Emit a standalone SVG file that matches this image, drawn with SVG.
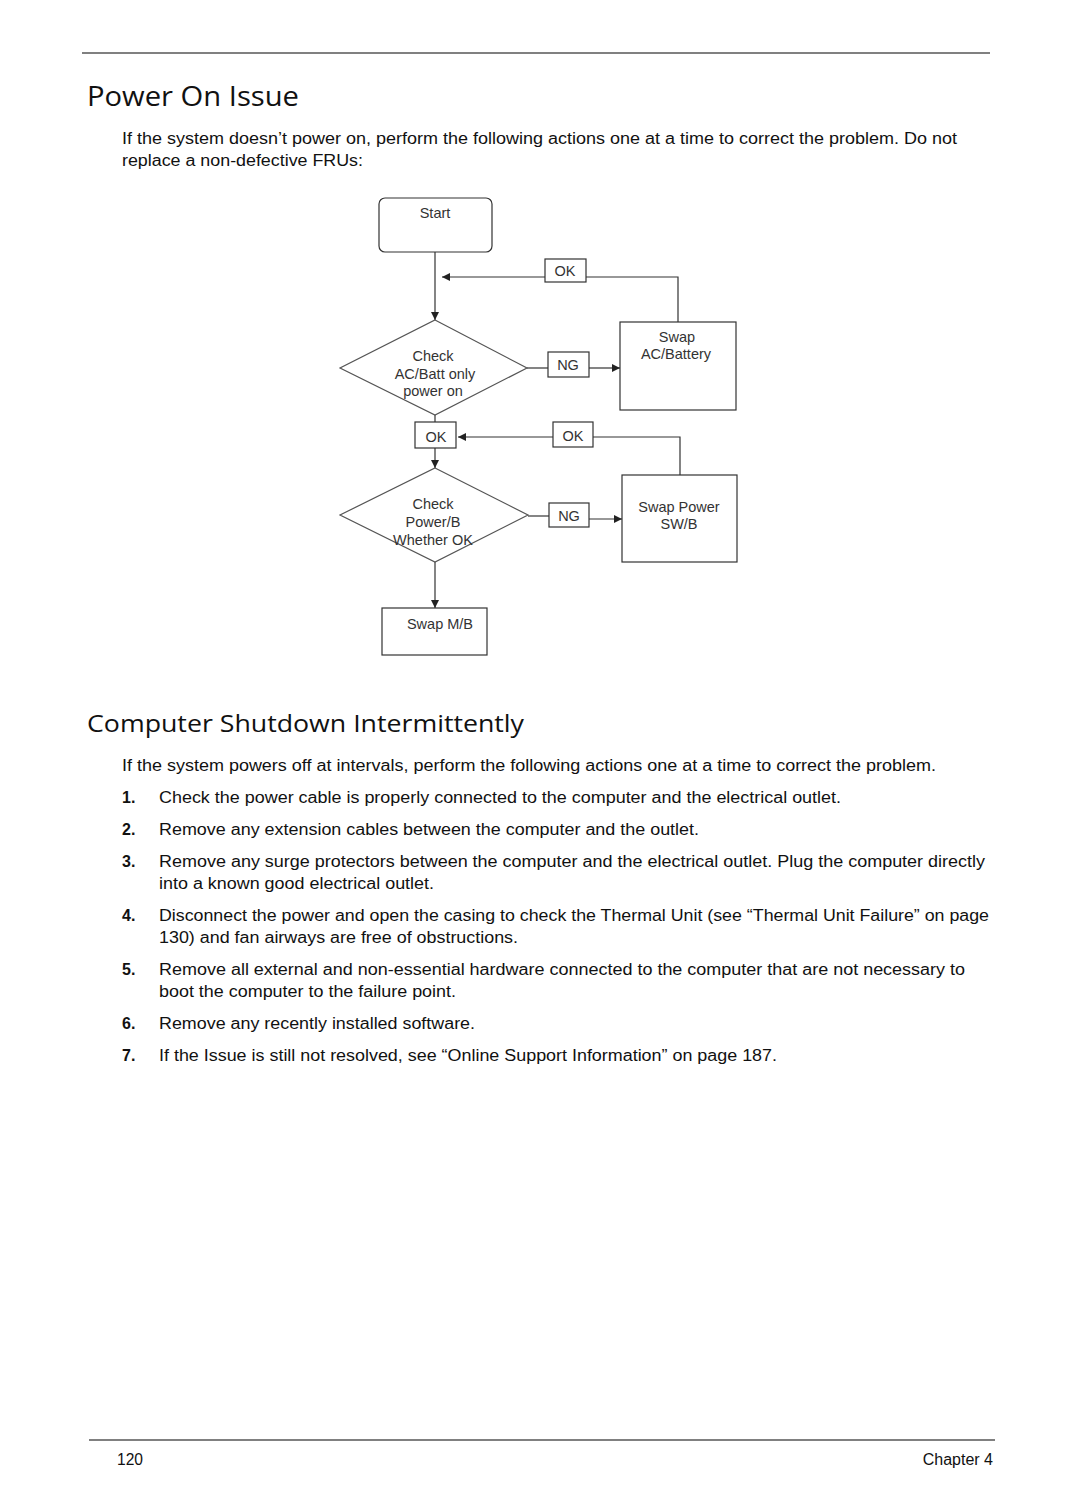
<svg xmlns="http://www.w3.org/2000/svg" width="1080" height="1512" viewBox="0 0 1080 1512">
<defs>
<style>
.rule{stroke:#808080;stroke-width:2;fill:none}
.h{font-family:"Open Sans","Noto Sans",sans-serif;fill:#111}
.b{font-family:"Liberation Sans",Arial,sans-serif;font-size:16px;fill:#111}
.n{font-family:"Liberation Sans",Arial,sans-serif;font-size:16px;font-weight:bold;fill:#111}
.box{fill:#fff;stroke:#333;stroke-width:1.2}
.dia{fill:#fff;stroke:#555;stroke-width:1.2}
.ft{font-family:"Liberation Sans",Arial,sans-serif;font-size:14.5px;fill:#333;text-anchor:middle}
.c{stroke:#333;stroke-width:1.2;fill:none}
</style>
<marker id="ah" viewBox="0 0 10 10" refX="10" refY="5" markerWidth="8" markerHeight="8" markerUnits="userSpaceOnUse" orient="auto">
<path d="M0,0 L10,5 L0,10 z" fill="#222"/>
</marker>
</defs>
<rect width="1080" height="1512" fill="#fff"/>
<line class="rule" x1="82" y1="53" x2="990" y2="53"/>
<text class="h" x="87" y="106" font-size="28" textLength="212" lengthAdjust="spacingAndGlyphs">Power On Issue</text>
<text class="b" x="122" y="144" textLength="835" lengthAdjust="spacingAndGlyphs">If the system doesn’t power on, perform the following actions one at a time to correct the problem. Do not</text>
<text class="b" x="122" y="166" textLength="241" lengthAdjust="spacingAndGlyphs">replace a non-defective FRUs:</text>

<g id="connectors">
<path class="c" d="M435,252 V320" marker-end="url(#ah)"/>
<path class="c" d="M678,322 V277 H586"/>
<path class="c" d="M545,277 H442" marker-end="url(#ah)"/>
<path class="c" d="M527,368 H548"/>
<path class="c" d="M589,368 H620" marker-end="url(#ah)"/>
<path class="c" d="M435,415 V422"/>
<path class="c" d="M435,448 V468" marker-end="url(#ah)"/>
<path class="c" d="M680,475 V437 H593"/>
<path class="c" d="M553,437 H458" marker-end="url(#ah)"/>
<path class="c" d="M528,516 H549"/>
<path class="c" d="M589,519 H622" marker-end="url(#ah)"/>
<path class="c" d="M435,562 V608" marker-end="url(#ah)"/>
</g>

<g id="start"><rect class="box" x="379" y="198" width="113" height="54" rx="6"/><text class="ft" x="435" y="218">Start</text></g>
<g id="ok1"><rect class="box" x="545" y="259" width="41" height="23"/><text class="ft" x="565" y="276">OK</text></g>
<g id="check-ac"><polygon class="dia" points="435,320 527,368 435,415 340,368"/>
<text class="ft" x="433" y="361">Check</text><text class="ft" x="435" y="379">AC/Batt only</text><text class="ft" x="433" y="396">power on</text></g>
<g id="ng1"><rect class="box" x="548" y="352" width="41" height="25"/><text class="ft" x="568" y="370">NG</text></g>
<g id="swap-ac"><rect class="box" x="620" y="322" width="116" height="88"/><text class="ft" x="677" y="342">Swap</text><text class="ft" x="676" y="359">AC/Battery</text></g>
<g id="ok2"><rect class="box" x="415" y="422" width="41" height="26"/><text class="ft" x="436" y="442">OK</text></g>
<g id="ok3"><rect class="box" x="553" y="422" width="40" height="25"/><text class="ft" x="573" y="441">OK</text></g>
<g id="check-pb"><polygon class="dia" points="435,468 528,515 435,562 340,515"/>
<text class="ft" x="433" y="509">Check</text><text class="ft" x="433" y="527">Power/B</text><text class="ft" x="433" y="545">Whether OK</text></g>
<g id="ng2"><rect class="box" x="549" y="503" width="40" height="24"/><text class="ft" x="569" y="521">NG</text></g>
<g id="swap-sw"><rect class="box" x="622" y="475" width="115" height="87"/><text class="ft" x="679" y="512">Swap Power</text><text class="ft" x="679" y="529">SW/B</text></g>
<g id="swap-mb"><rect class="box" x="382" y="608" width="105" height="47"/><text class="ft" x="440" y="629">Swap M/B</text></g>

<text class="h" x="87" y="732" font-size="24" textLength="437" lengthAdjust="spacingAndGlyphs">Computer Shutdown Intermittently</text>
<text class="b" x="122" y="771" textLength="814" lengthAdjust="spacingAndGlyphs">If the system powers off at intervals, perform the following actions one at a time to correct the problem.</text>
<text class="n" x="122" y="803">1.</text>
<text class="b" x="159" y="803" textLength="682" lengthAdjust="spacingAndGlyphs">Check the power cable is properly connected to the computer and the electrical outlet.</text>
<text class="n" x="122" y="835">2.</text>
<text class="b" x="159" y="835" textLength="540" lengthAdjust="spacingAndGlyphs">Remove any extension cables between the computer and the outlet.</text>
<text class="n" x="122" y="867">3.</text>
<text class="b" x="159" y="867" textLength="826" lengthAdjust="spacingAndGlyphs">Remove any surge protectors between the computer and the electrical outlet. Plug the computer directly</text>
<text class="b" x="159" y="889" textLength="275" lengthAdjust="spacingAndGlyphs">into a known good electrical outlet.</text>
<text class="n" x="122" y="921">4.</text>
<text class="b" x="159" y="921" textLength="830" lengthAdjust="spacingAndGlyphs">Disconnect the power and open the casing to check the Thermal Unit (see “Thermal Unit Failure” on page</text>
<text class="b" x="159" y="943" textLength="359" lengthAdjust="spacingAndGlyphs">130) and fan airways are free of obstructions.</text>
<text class="n" x="122" y="975">5.</text>
<text class="b" x="159" y="975" textLength="806" lengthAdjust="spacingAndGlyphs">Remove all external and non-essential hardware connected to the computer that are not necessary to</text>
<text class="b" x="159" y="997" textLength="297" lengthAdjust="spacingAndGlyphs">boot the computer to the failure point.</text>
<text class="n" x="122" y="1029">6.</text>
<text class="b" x="159" y="1029" textLength="316" lengthAdjust="spacingAndGlyphs">Remove any recently installed software.</text>
<text class="n" x="122" y="1061">7.</text>
<text class="b" x="159" y="1061" textLength="618" lengthAdjust="spacingAndGlyphs">If the Issue is still not resolved, see “Online Support Information” on page 187.</text>

<line class="rule" x1="89" y1="1440" x2="995" y2="1440"/>
<text class="b" x="117" y="1465" textLength="26" lengthAdjust="spacingAndGlyphs">120</text>
<text class="b" x="993" y="1465" text-anchor="end">Chapter 4</text>
</svg>
